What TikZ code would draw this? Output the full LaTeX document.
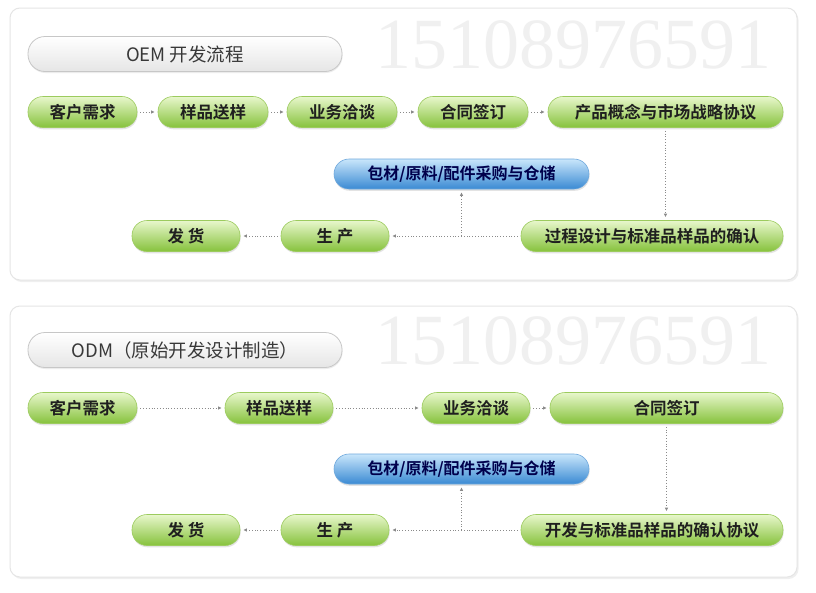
\documentclass[tikz,border=0pt]{standalone}
\usepackage{fontspec}
\setmainfont{Liberation Serif}
\newfontfamily\cjk{Noto Sans CJK SC}
\newfontfamily\cjkb{Noto Sans CJK SC Bold}
\usetikzlibrary{arrows.meta,shadows}
\definecolor{gtop}{HTML}{E8F7CC}
\definecolor{gbot}{HTML}{86C23C}
\definecolor{gline}{HTML}{9CCB5E}
\definecolor{btop}{HTML}{C9E6FB}
\definecolor{bbot}{HTML}{3A8AD3}
\definecolor{bline}{HTML}{6FA8DC}
\definecolor{wm}{HTML}{F0F0F0}
\definecolor{dots}{HTML}{8A8A8A}
\tikzset{
  x=1pt, y=-1pt,
  panel/.style={draw=black!10, line width=1pt, fill=white, rounded corners=10pt,
    drop shadow={opacity=0.12, shadow xshift=1.5pt, shadow yshift=-2pt}},
  titlepill/.style={draw=black!22, line width=0.8pt, rounded corners=17pt,
    top color=white, bottom color=black!10, minimum height=35pt, minimum width=314pt,
    font=\cjk\fontsize{18.5}{18.5}\selectfont, text=black!78,
    drop shadow={opacity=0.15, shadow xshift=0.5pt, shadow yshift=-1.5pt}},
  gpill/.style={draw=gline, line width=0.6pt, rounded corners=15pt,
    top color=gtop, bottom color=gbot, minimum height=31pt, inner sep=0pt,
    font=\cjkb\fontsize{16.5}{16.5}\selectfont, text=black!88,
    drop shadow={opacity=0.22, shadow xshift=0.6pt, shadow yshift=-1.8pt}},
  bpill/.style={draw=bline, line width=0.6pt, rounded corners=15pt,
    top color=btop, bottom color=bbot, minimum height=30pt, inner sep=0pt,
    font=\cjkb\fontsize{16}{16}\selectfont, text=blue!30!black,
    drop shadow={opacity=0.22, shadow xshift=0.6pt, shadow yshift=-1.8pt}},
  watermark/.style={font=\fontsize{72}{72}\selectfont, text=wm},
  arr/.style={draw=dots, line width=0.8pt, dotted,
    -{Latex[length=3.5pt,width=3.5pt]}, shorten >=3pt, shorten <=3pt},
}
\begin{document}
\begin{tikzpicture}
\useasboundingbox (0,0) rectangle (816,592);
\fill[white] (0,0) rectangle (816,592);

% ---------- Panel 1 : OEM ----------
\path[panel] (10,8) rectangle (797,280);
\node[watermark] (wm1) at (573,45) {15108976591};
\node[titlepill] (t1) at (185,54) {OEM 开发流程};

\node[gpill, minimum width=109pt] (a1) at (82.5,112) {客户需求};
\node[gpill, minimum width=110pt] (a2) at (213,112) {样品送样};
\node[gpill, minimum width=110pt] (a3) at (342,112) {业务洽谈};
\node[gpill, minimum width=110pt] (a4) at (473,112) {合同签订};
\node[gpill, minimum width=235pt] (a5) at (665.5,112) {产品概念与市场战略协议};

\node[bpill, minimum width=255pt] (ab) at (461.5,174) {包材/原料/配件采购与仓储};

\node[gpill, minimum width=108pt] (a8) at (186,236) {发\ 货};
\node[gpill, minimum width=108pt] (a7) at (335,236) {生\ 产};
\node[gpill, minimum width=262pt] (a6) at (652,236) {过程设计与标准品样品的确认};

\draw[arr] (a1) -- (a2);
\draw[arr] (a2) -- (a3);
\draw[arr] (a3) -- (a4);
\draw[arr] (a4) -- (a5);
\draw[arr] (a5.south) -- (a5.south |- a6.north);
\draw[arr] (a6) -- (a7);
\draw[arr] (a7) -- (a8);
\coordinate (j1) at (ab.south |- a6.west);
\draw[arr, shorten <=0pt] (j1) -- (ab.south);

% ---------- Panel 2 : ODM ----------
\path[panel] (10,306) rectangle (797,577);
\node[watermark] (wm2) at (573,341) {15108976591};
\node[titlepill] (t2) at (185,350) {ODM（原始开发设计制造）};

\node[gpill, minimum width=109pt] (b1) at (82.5,408) {客户需求};
\node[gpill, minimum width=108pt] (b2) at (279,408) {样品送样};
\node[gpill, minimum width=108pt] (b3) at (476,408) {业务洽谈};
\node[gpill, minimum width=233pt] (b4) at (666.5,408) {合同签订};

\node[bpill, minimum width=255pt] (bb) at (461.5,469) {包材/原料/配件采购与仓储};

\node[gpill, minimum width=108pt] (b7) at (186,530) {发\ 货};
\node[gpill, minimum width=108pt] (b6) at (335,530) {生\ 产};
\node[gpill, minimum width=262pt] (b5) at (652,530) {开发与标准品样品的确认协议};

\draw[arr] (b1) -- (b2);
\draw[arr] (b2) -- (b3);
\draw[arr] (b3) -- (b4);
\draw[arr] (b4.south) -- (b4.south |- b5.north);
\draw[arr] (b5) -- (b6);
\draw[arr] (b6) -- (b7);
\coordinate (j2) at (bb.south |- b5.west);
\draw[arr, shorten <=0pt] (j2) -- (bb.south);
\end{tikzpicture}
\end{document}
